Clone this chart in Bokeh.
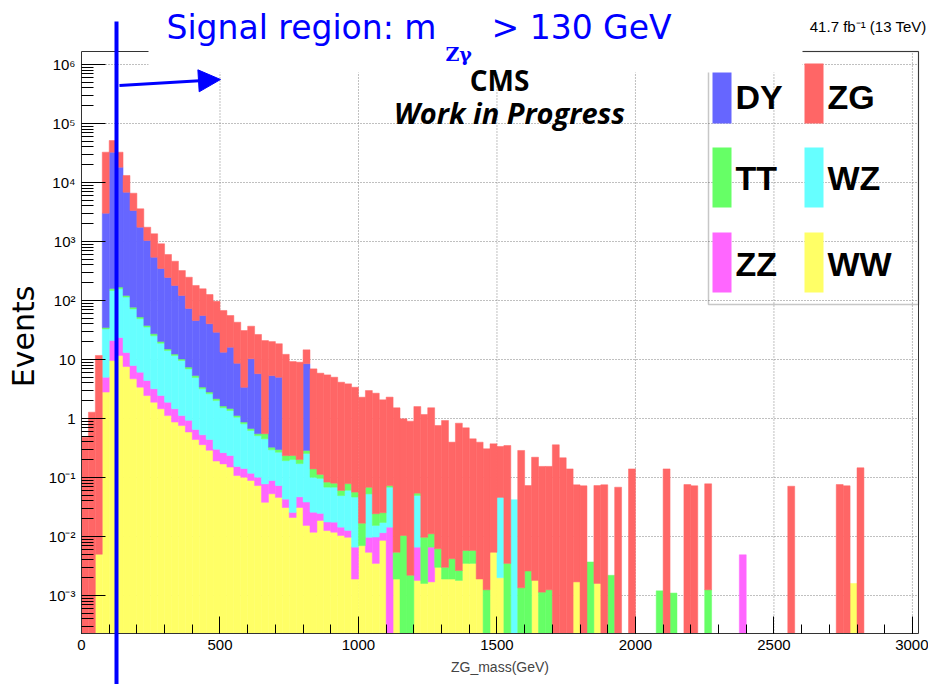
import numpy as np
from bokeh.plotting import figure
from bokeh.models import (Range1d, FixedTicker, SingleIntervalTicker, Label, LinearAxis, LogAxis,
                          BoxAnnotation, Arrow, NormalHead, ColumnDataSource)
from bokeh.embed import file_html
from bokeh.resources import INLINE

# ---------------------------------------------------------------- data
BIN_WIDTH = 25.0          # GeV, 120 bins from 0 to 3000 GeV
N_BINS = 120

ww = [0, 0, 0.005, 2.8, 9.6, 11.7, 7.6, 4.7, 3.4, 2.45,
      1.89, 1.46, 1.12, 0.87, 0.76, 0.59, 0.44, 0.36, 0.29, 0.19,
      0.17, 0.15, 0.108, 0.101, 0.089, 0.073, 0.038, 0.053, 0.046, 0.031,
      0.021, 0.031, 0.0154, 0.0118, 0.0187, 0.0126, 0.0118, 0.0104, 0.0097, 0.0019,
      0.0070, 0.0054, 0.0035, 0.0086, 0, 0.0019, 0, 0, 0.0018, 0.0016,
      0.0017, 0.0030, 0.0019, 0.0019, 0.0018, 0.0035, 0.0035, 0.0019, 0, 0.0054,
      0.0020, 0, 0, 0, 0, 0.0018, 0, 0, 0, 0,
      0, 0.0017, 0, 0, 0.0016, 0, 0, 0, 0, 0,
      0, 0, 0, 0, 0, 0, 0, 0, 0, 0,
      0, 0, 0, 0, 0, 0, 0, 0, 0, 0,
      0, 0, 0, 0, 0, 0, 0, 0, 0, 0,
      0, 0.0016, 0, 0, 0, 0, 0, 0, 0, 0]

zz = [0, 0, 0, 2.2, 11.4, 11.9, 5.5, 3.2, 2.7, 1.96,
      1.3, 0.99, 0.77, 0.59, 0.36, 0.34, 0.21, 0.17, 0.15, 0.112,
      0.094, 0.086, 0.046, 0.041, 0.029, 0.028, 0.040, 0.036, 0.027, 0.012,
      0.0046, 0.016, 0.023, 0.014, 0.006, 0.005, 0.0057, 0.004, 0.003, 0.0047,
      0, 0.0043, 0.0063, 0.003, 0.0144, 0, 0, 0, 0.0048, 0,
      0.0049, 0, 0, 0, 0, 0, 0, 0, 0, 0,
      0, 0, 0, 0, 0, 0, 0, 0, 0, 0,
      0, 0, 0, 0, 0, 0, 0, 0, 0, 0,
      0, 0, 0, 0, 0, 0, 0, 0, 0, 0,
      0, 0, 0, 0, 0, 0.0049, 0, 0, 0, 0,
      0, 0, 0, 0, 0, 0, 0, 0, 0, 0,
      0, 0, 0, 0, 0, 0, 0, 0, 0, 0]

wz = [0, 0, 0, 28, 127, 134, 101, 64, 43, 31,
      22, 16.4, 12.3, 10.2, 8.5, 6.0, 4.3, 2.65, 2.18, 1.71,
      1.26, 1.13, 0.90, 0.67, 0.51, 0.41, 0.375, 0.206, 0.195, 0.15,
      0.176, 0.125, 0.217, 0.075, 0.072, 0.051, 0.051, 0.035, 0.048, 0.040,
      0, 0.043, 0.0056, 0.0057, 0.054, 0, 0, 0, 0.043, 0,
      0, 0, 0, 0, 0, 0, 0, 0, 0, 0,
      0.044, 0, 0.042, 0, 0, 0, 0, 0, 0, 0,
      0, 0, 0, 0, 0, 0, 0, 0, 0, 0,
      0, 0, 0, 0, 0, 0, 0, 0, 0, 0,
      0, 0, 0, 0, 0, 0, 0, 0, 0, 0,
      0, 0, 0, 0, 0, 0, 0, 0, 0, 0,
      0, 0, 0, 0, 0, 0, 0, 0, 0, 0]

tt = [0, 0, 0, 1.8, 12, 11.6, 7.8, 5.3, 3.6, 2.4,
      2.1, 1.3, 0.9, 0.7, 0.6, 0.5, 0.4, 0.23, 0.19, 0.16,
      0.11, 0.11, 0.07, 0.06, 0.05, 0.042, 0.098, 0.031, 0.03, 0.042,
      0.034, 0.03, 0.032, 0.039, 0.016, 0.015, 0.0115, 0.011, 0.018, 0.010,
      0.0098, 0.0155, 0.0089, 0.008, 0.0046, 0.0035, 0.0104, 0.0022, 0.0047, 0.0081,
      0.0045, 0.0032, 0.0011, 0.0023, 0.00085, 0.0023, 0.0023, 0, 0.00125, 0,
      0, 0.0035, 0, 0.00135, 0.0026, 0, 0.00114, 0.00125, 0, 0,
      0, 0, 0, 0.0037, 0, 0, 0.0022, 0, 0, 0,
      0, 0, 0, 0.0012, 0, 0.0011, 0, 0, 0, 0,
      0.00125, 0, 0, 0, 0, 0, 0, 0, 0, 0,
      0, 0, 0, 0, 0, 0, 0, 0, 0, 0,
      0, 0, 0, 0, 0, 0, 0, 0, 0, 0]

dy = [0, 0, 0, 2985, 32490, 17990, 6730, 3270, 1695, 1002,
      514, 329, 230, 167, 111, 65.7, 40.5, 52.3, 37.5, 26.8,
      11.7, 14.7, 7.5, 2.5, 9.6, 5.2, 0, 5.0, 4.7, 0,
      0, 0, 8.2, 0, 0, 0, 0, 0, 0, 0,
      0, 0, 0, 0, 0, 0, 0, 0, 0, 0,
      0, 0, 0, 0, 0, 0, 0, 0, 0, 0,
      0, 0, 0, 0, 0, 0, 0, 0, 0, 0,
      0, 0, 0, 0, 0, 0, 0, 0, 0, 0,
      0, 0, 0, 0, 0, 0, 0, 0, 0, 0,
      0, 0, 0, 0, 0, 0, 0, 0, 0, 0,
      0, 0, 0, 0, 0, 0, 0, 0, 0, 0,
      0, 0, 0, 0, 0, 0, 0, 0, 0, 0]

zg = [0.48, 1.28, 11.7, 29630, 18850, 14490, 6300, 3240, 1833, 707,
      810, 565, 357, 284, 200, 175, 134, 102, 86, 68,
      54.4, 39.5, 34.2, 27.6, 26.4, 20.8, 20.4, 14.8, 13.5, 12.0,
      9.0, 8.8, 6.1, 6.8, 5.75, 5.4, 4.93, 4.06, 3.79, 3.33,
      2.28, 2.91, 2.66, 2.05, 2.23, 1.51, 0.978, 0.898, 1.54, 1.16,
      1.51, 0.755, 0.922, 0.393, 0.83, 0.69, 0.447, 0.395, 0.305, 0.367,
      0.29, 0.345, 0, 0.286, 0.0705, 0.219, 0.153, 0.153, 0.358, 0.216,
      0.140, 0.0735, 0.0723, 0, 0.0715, 0.0752, 0, 0.0685, 0, 0.140,
      0, 0, 0, 0, 0.140, 0, 0, 0.076, 0.0723, 0,
      0.077, 0, 0, 0, 0, 0, 0, 0, 0, 0,
      0, 0, 0.0712, 0, 0, 0, 0, 0, 0, 0.076,
      0.0723, 0, 0.146, 0, 0, 0, 0, 0, 0, 0]

# stacking order, bottom -> top
process_names = ["WW", "ZZ", "WZ", "TT", "DY", "ZG"]
process_values = [ww, zz, wz, tt, dy, zg]
process_colors = ["#ffff66", "#ff66ff", "#66ffff", "#66ff66", "#6666ff", "#ff6666"]

x_tick_values = [0, 500, 1000, 1500, 2000, 2500, 3000]
y_tick_values = [1e-3, 1e-2, 1e-1, 1, 10, 100, 1e3, 1e4, 1e5, 1e6]
y_tick_labels = ["10\u207b\u00b3", "10\u207b\u00b2", "10\u207b\u00b9", "1", "10",
                 "10\u00b2", "10\u00b3", "10\u2074", "10\u2075", "10\u2076"]
legend_grid = [["DY", "ZG"], ["TT", "WZ"], ["ZZ", "WW"]]

# ---------------------------------------------------------------- geometry (pixels)
W, H = 928, 684
FRAME_L, FRAME_R, FRAME_T, FRAME_B = 81, 918, 51, 633   # the histogram box
X_MAX = 3022.0
PX_PER_DECADE = 59.0
Y_ONE_PX = 418.0          # pixel row of the value 1


def xd(px):
    return (px - FRAME_L) * X_MAX / (FRAME_R - FRAME_L)


def yd(py):
    return 10 ** ((Y_ONE_PX - py) / PX_PER_DECADE)


Y_HI = yd(FRAME_T)
Y_LO = yd(FRAME_B)

SANS = "Liberation Sans"

# the drawing frame spans the whole canvas; axes are pinned at the histogram box edges
p = figure(width=W, height=H, output_backend="svg", toolbar_location=None,
           x_range=Range1d(xd(0), xd(W)), y_range=Range1d(yd(H), yd(0)), y_axis_type="log",
           min_border=0, min_border_left=0, min_border_right=0, min_border_top=0,
           min_border_bottom=0, title_location=None)
p.background_fill_color = "white"
p.border_fill_color = "white"
p.outline_line_color = None
p.xgrid.visible = False
p.ygrid.visible = False

# ---------------------------------------------------------------- grid (dotted, ROOT style)
p.segment(x0=x_tick_values[1:], x1=x_tick_values[1:], y0=Y_LO, y1=Y_HI,
          line_color="#808080", line_dash="1 2", line_width=1, level="underlay")
p.segment(x0=0, x1=X_MAX, y0=y_tick_values, y1=y_tick_values,
          line_color="#808080", line_dash="1 2", line_width=1, level="underlay")

# ---------------------------------------------------------------- stacked histogram
edges_lo = np.arange(N_BINS) * BIN_WIDTH
cum = np.zeros(N_BINS)
for name, vals, color in zip(process_names, process_values, process_colors):
    v = np.asarray(vals, dtype=float)
    top = cum + v
    bottom = np.maximum(cum, Y_LO)
    m = v > 0
    src = ColumnDataSource(dict(left=edges_lo[m], right=edges_lo[m] + BIN_WIDTH,
                                bottom=bottom[m], top=top[m]))
    p.quad(left="left", right="right", bottom="bottom", top="top", source=src,
           fill_color=color, line_color=color, line_width=0.5)
    cum = top

# ---------------------------------------------------------------- axes
xt = SingleIntervalTicker(interval=500, num_minor_ticks=5)
minor = [m * 10.0 ** e for e in range(-4, 7) for m in range(2, 10)]
minor = [t for t in minor if Y_LO <= t <= Y_HI]
yt = FixedTicker(ticks=y_tick_values, minor_ticks=minor)

xax = p.xaxis[0]
yax = p.yaxis[0]
xax.ticker = xt
xax.fixed_location = Y_LO
xax.bounds = (0, X_MAX)
yax.ticker = yt
yax.fixed_location = 0
yax.bounds = (Y_LO, Y_HI)
yax.major_label_overrides = dict(zip(y_tick_values, y_tick_labels))

for ax in (xax, yax):
    ax.axis_line_color = "#333333"
    ax.axis_line_width = 1
    ax.major_tick_line_color = "black"
    ax.minor_tick_line_color = "black"
    ax.major_tick_out = 0
    ax.minor_tick_out = 0
    ax.major_label_text_font = SANS
    ax.major_label_text_font_size = "15px"
    ax.major_label_text_color = "black"
    ax.major_label_standoff = 6

xax.major_tick_in = 17
xax.minor_tick_in = 9
yax.major_tick_in = 24
yax.minor_tick_in = 12

xax.axis_label = "ZG_mass(GeV)"
xax.axis_label_text_font = SANS
xax.axis_label_text_font_style = "normal"
xax.axis_label_text_font_size = "14px"
xax.axis_label_standoff = 6

# top and right edges of the histogram box
top_edge = LinearAxis(fixed_location=Y_HI, bounds=(0, X_MAX), ticker=FixedTicker(ticks=[]),
                      axis_line_color="#333333", major_tick_in=0, major_tick_out=0,
                      minor_tick_in=0, minor_tick_out=0)
right_edge = LogAxis(fixed_location=X_MAX, bounds=(Y_LO, Y_HI), ticker=FixedTicker(ticks=[]),
                     axis_line_color="#333333", major_tick_in=0, major_tick_out=0,
                     minor_tick_in=0, minor_tick_out=0)
p.add_layout(top_edge, "above")
p.add_layout(right_edge, "right")

# ---------------------------------------------------------------- legend (ROOT style, 2 columns)
color_of = dict(zip(process_names, process_colors))
col_px = [(712, 731, 735), (804, 823, 827)]
row_px = [(63, 123, 96), (147, 207, 177), (232, 292, 263)]
for r, row in enumerate(legend_grid):
    for c, name in enumerate(row):
        x0, x1, tx = col_px[c]
        y0, y1, base = row_px[r]
        p.add_layout(BoxAnnotation(left=xd(x0), right=xd(x1), top=yd(y0), bottom=yd(y1),
                                   fill_color=color_of[name], fill_alpha=1.0, line_color=None))
        p.add_layout(Label(x=xd(tx), y=yd(base), text=name, text_font=SANS,
                           text_font_style="bold", text_font_size="34px",
                           text_color="black", text_baseline="alphabetic", text_align="left"))
p.add_layout(BoxAnnotation(left=xd(708), right=xd(FRAME_R), top=yd(FRAME_T), bottom=yd(304),
                           fill_alpha=0.0, line_color="#444444", line_width=1.5))

# white patch behind the pasted headline
p.add_layout(BoxAnnotation(left=xd(148), right=xd(802), top=yd(0), bottom=yd(72),
                           fill_color="white", fill_alpha=1.0, line_color=None))

# ---------------------------------------------------------------- texts
BLUE = "#0000ff"
p.add_layout(Label(x=xd(166), y=yd(27), text="Signal region: m", text_font="DejaVu Sans",
                   text_font_size="33px", text_color=BLUE, text_baseline="alphabetic"))
p.add_layout(Label(x=xd(445), y=yd(53), text="Z\u03b3", text_font="DejaVu Serif",
                   text_font_style="bold", text_font_size="19px", text_color=BLUE,
                   text_baseline="alphabetic"))
p.add_layout(Label(x=xd(491), y=yd(27), text="> 130 GeV", text_font="DejaVu Sans",
                   text_font_size="33px", text_color=BLUE, text_baseline="alphabetic"))

p.add_layout(Label(x=xd(499), y=yd(79), text="CMS", text_font="Open Sans",
                   text_font_style="bold", text_font_size="28px", text_color="black",
                   text_align="center", text_baseline="alphabetic"))
p.add_layout(Label(x=xd(509), y=yd(112), text="Work in Progress", text_font="Open Sans",
                   text_font_style="bold italic", text_font_size="29px", text_color="black",
                   text_align="center", text_baseline="alphabetic"))

p.add_layout(Label(x=xd(926), y=yd(25.5), text="41.7 fb\u207b\u00b9 (13 TeV)", text_font=SANS,
                   text_font_size="15px", text_color="black", text_align="right",
                   text_baseline="alphabetic"))

p.add_layout(Label(x=xd(23), y=yd(336), text="Events", text_font="DejaVu Sans",
                   text_font_size="30px", text_color="black", angle=np.pi / 2,
                   text_align="center", text_baseline="middle"))

# ---------------------------------------------------------------- signal-region marker
p.add_layout(Arrow(end=None, x_start=xd(116), y_start=yd(21), x_end=xd(116), y_end=yd(H),
                   line_color=BLUE, line_width=4))
p.add_layout(Arrow(end=NormalHead(size=22, fill_color=BLUE, line_color=BLUE),
                   x_start=xd(119), y_start=yd(85), x_end=xd(220), y_end=yd(79),
                   line_color=BLUE, line_width=3))

open("out.html", "w", encoding="utf-8").write(file_html(p, INLINE))
